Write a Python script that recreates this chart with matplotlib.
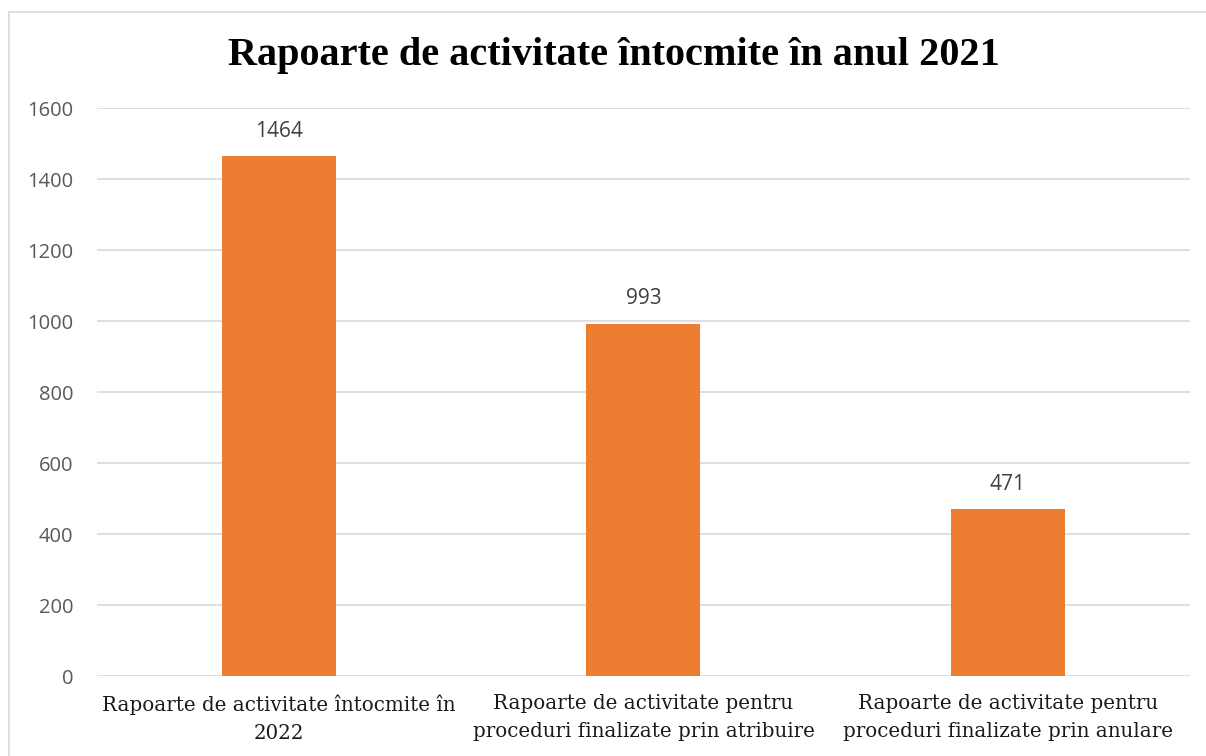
import matplotlib.pyplot as plt
from matplotlib.patches import Rectangle

categories = [
    "Rapoarte de activitate întocmite în\n2022",
    "Rapoarte de activitate pentru\nproceduri finalizate prin atribuire",
    "Rapoarte de activitate pentru\nproceduri finalizate prin anulare",
]
values = [1464, 993, 471]
yticks = [0, 200, 400, 600, 800, 1000, 1200, 1400, 1600]

fig = plt.figure(figsize=(12.06, 7.56), dpi=100)
ax = fig.add_axes([0.0804, 0.1058, 0.9063, 0.7513])

# chart border
fig.patches.append(Rectangle((9 / 1206, -0.01), 1.0, 1 - 12 / 756 + 0.01,
                             transform=fig.transFigure, fill=False,
                             edgecolor="#d9d9d9", linewidth=1.2))

x = range(len(values))
bars = ax.bar(x, values, width=0.313, color="#ED7D31", zorder=3)
for xi, v in zip(x, values):
    ax.text(xi, v + 40, str(v), ha="center", va="bottom",
            fontsize=15, color="#404040", family="Open Sans")

ax.set_xlim(-0.5, 2.5)
ax.set_ylim(0, 1600)
ax.set_yticks(yticks)
ax.set_yticklabels([str(t) for t in yticks], fontsize=14.5, color="#595959",
                   family="Open Sans")
ax.set_xticks(list(x))
ax.set_xticklabels(categories, fontsize=14.3, color="#1a1a1a",
                   family="DejaVu Serif", linespacing=1.6)
ax.tick_params(axis="both", length=0)
ax.tick_params(axis="y", pad=17)
ax.tick_params(axis="x", pad=13)
ax.grid(axis="y", color="#d9d9d9", linewidth=1.2, zorder=0)
for s in ax.spines.values():
    s.set_visible(False)

fig.text(0.5 * (229 + 998) / 1206, 1 - 55 / 756,
         "Rapoarte de activitate întocmite în anul 2021",
         ha="center", va="center", fontsize=29, fontweight="bold",
         family="Liberation Serif")

fig.savefig("out.png", dpi=100)
